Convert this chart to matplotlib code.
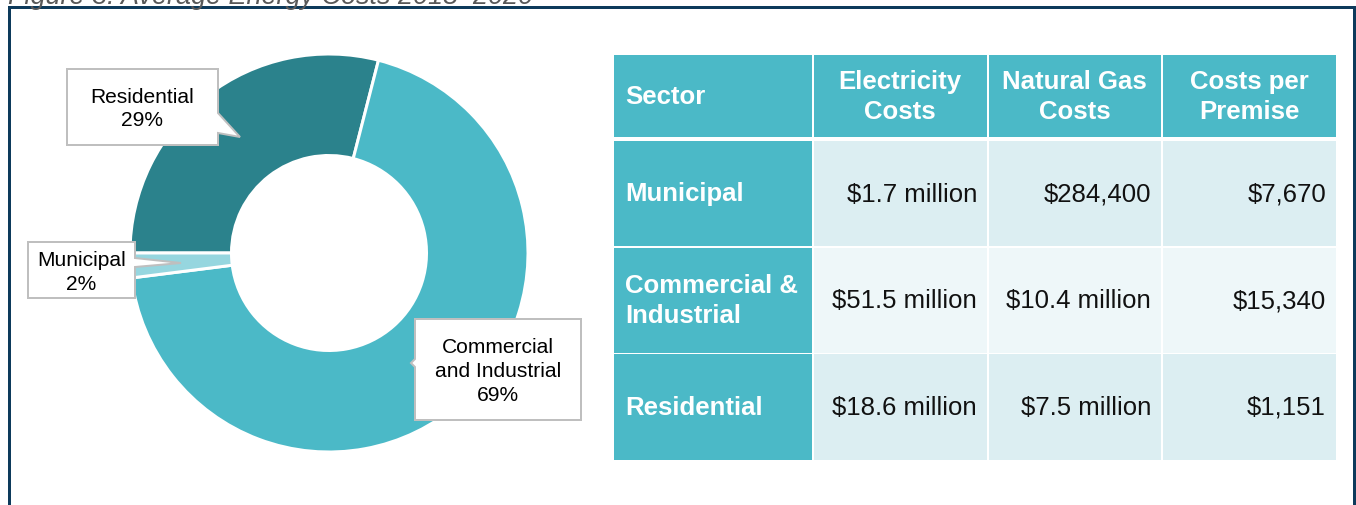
import matplotlib
matplotlib.use("Agg")
import matplotlib.pyplot as plt
from matplotlib.patches import Rectangle, Polygon

# ---------------- data ----------------
pie_labels = ["Residential", "Commercial\nand Industrial", "Municipal"]
pie_values = [29, 69, 2]

headers = ["Sector", "Electricity\nCosts", "Natural Gas\nCosts", "Costs per\nPremise"]
table_sectors = ["Municipal", "Commercial &\nIndustrial", "Residential"]
electricity_costs = ["$1.7 million", "$51.5 million", "$18.6 million"]
gas_costs = ["$284,400", "$10.4 million", "$7.5 million"]
cost_per_premise = ["$7,670", "$15,340", "$1,151"]

title = "Figure 3: Average Energy Costs 2018\u20132020"

# ---------------- style ----------------
W, H = 1356, 506
DPI = 100
FONT = "Liberation Sans"
TEAL = "#4BB9C7"
DARK = "#2B828C"
LIGHT = "#96D6DF"
CELL_A = "#DCEEF2"
CELL_B = "#EEF7F9"
NAVY = "#0D3A5B"
PX = 72.0 / DPI  # points per pixel

plt.rcParams["font.family"] = [FONT, "DejaVu Sans"]

fig = plt.figure(figsize=(W / DPI, H / DPI), dpi=DPI)
fig.patch.set_facecolor("white")

# ---------------- donut ----------------
cx, cy, r = 329, 254, 199
box = 400
ax_pie = fig.add_axes([(cx - box / 2) / W, (H - cy - box / 2) / H, box / W, box / H])
ax_pie.pie(pie_values, colors=[DARK, TEAL, LIGHT], startangle=180, counterclock=False,
           radius=1.0,
           wedgeprops=dict(width=0.51, edgecolor="white", linewidth=3 * PX))
lim = box / 2 / r
ax_pie.set_xlim(-lim, lim)
ax_pie.set_ylim(-lim, lim)
ax_pie.set_aspect("equal")
ax_pie.set_axis_off()

# ---------------- overlay (pixel coords) ----------------
ax = fig.add_axes([0, 0, 1, 1], zorder=5)
ax.set_xlim(0, W)
ax.set_ylim(H, 0)
ax.set_axis_off()

# frame
ax.plot([9, 9, 1353.5, 1353.5], [H + 5, 8, 8, H + 5], color=NAVY, lw=3 * PX,
        solid_joinstyle="miter", clip_on=False)

# title (cut off at the top, as in the source figure)
ax.text(8, 3.5, title, fontsize=27 * PX, style="italic", color="#595959",
        ha="left", va="baseline", family=FONT)

# callout boxes
callouts = {
    "Residential": [(67, 70), (218, 70), (218, 114), (240, 138), (218, 134), (218, 146), (67, 146)],
    "Commercial\nand Industrial": [(415, 320), (581, 320), (581, 421), (415, 421), (415, 368), (411, 364), (415, 360)],
    "Municipal": [(28, 243), (135, 243), (135, 259), (181, 264), (135, 268), (135, 299), (28, 299)],
}
centers = {
    "Residential": (142.5, 109),
    "Commercial\nand Industrial": (498, 371.5),
    "Municipal": (81.5, 272.5),
}
for lab, val in zip(pie_labels, pie_values):
    ax.add_patch(Polygon(callouts[lab], closed=True, facecolor="white",
                         edgecolor="#BFBFBF", lw=2 * PX, joinstyle="miter"))
    x, y = centers[lab]
    ax.text(x, y, f"{lab}\n{val}%", fontsize=21 * PX, color="black", ha="center",
            va="center", linespacing=1.32, family=FONT)

# table
col_edges = [(614, 812), (813.5, 987), (988.5, 1161), (1162.5, 1336)]
row_edges = [(56, 138), (142, 247), (248.5, 353.5), (355, 461)]
fs = 25.8 * PX
LS = 1.28

for j, (x0, x1) in enumerate(col_edges):
    y0, y1 = row_edges[0]
    ax.add_patch(Rectangle((x0, y0), x1 - x0, y1 - y0, facecolor=TEAL, edgecolor="none"))
    if j == 0:
        ax.text(x0 + 11, (y0 + y1) / 2, headers[j], fontsize=fs, color="white",
                fontweight="bold", ha="left", va="center", family=FONT)
    else:
        ax.text((x0 + x1) / 2, (y0 + y1) / 2, headers[j], fontsize=fs, color="white",
                fontweight="bold", ha="center", va="center", linespacing=LS,
                multialignment="center", family=FONT)

for i in range(len(table_sectors)):
    y0, y1 = row_edges[i + 1]
    ym = (y0 + y1) / 2
    cell_col = CELL_B if i == 1 else CELL_A
    vals = [table_sectors[i], electricity_costs[i], gas_costs[i], cost_per_premise[i]]
    for j, (x0, x1) in enumerate(col_edges):
        fc = TEAL if j == 0 else cell_col
        ax.add_patch(Rectangle((x0, y0), x1 - x0, y1 - y0, facecolor=fc, edgecolor="none"))
        if j == 0:
            ax.text(x0 + 11, ym, vals[j], fontsize=fs, color="white", fontweight="bold",
                    ha="left", va="center", linespacing=LS, family=FONT)
        else:
            ax.text(x1 - 10, ym, vals[j], fontsize=fs, color="#111111",
                    ha="right", va="center", family=FONT)

fig.savefig("out.png", dpi=DPI, facecolor="white")
